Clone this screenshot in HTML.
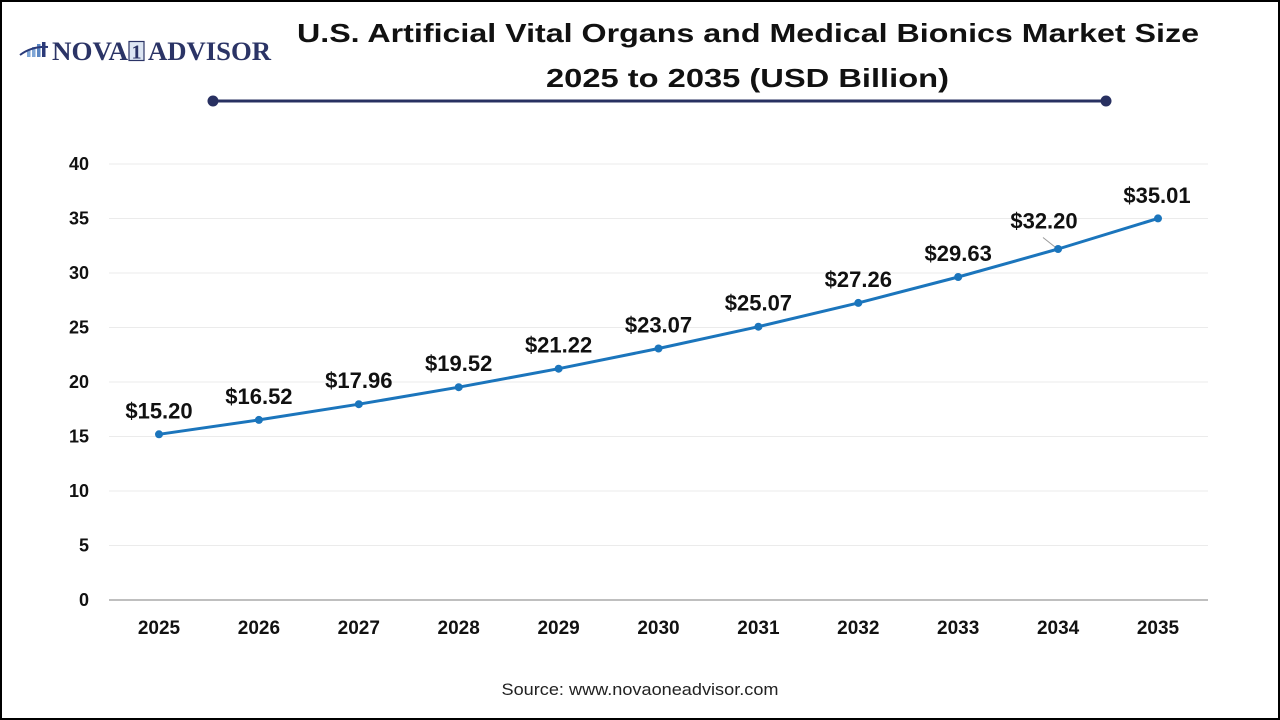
<!DOCTYPE html>
<html><head><meta charset="utf-8"><style>
html,body{margin:0;padding:0;background:#fff;}
svg{display:block;}
</style></head><body>
<svg width="1280" height="720" viewBox="0 0 1280 720" xmlns="http://www.w3.org/2000/svg">
<rect x="0" y="0" width="1280" height="720" fill="#fff"/>
<rect x="1" y="1" width="1278" height="718" fill="none" stroke="#000" stroke-width="2"/>
<!-- logo -->
<g>
<rect x="27" y="50" width="3.5" height="7" fill="#7fa6d6"/>
<rect x="32" y="47" width="3.5" height="10" fill="#7fa6d6"/>
<rect x="37" y="44" width="3.5" height="13" fill="#5b87c4"/>
<rect x="42" y="42" width="3.5" height="15" fill="#2b3a78"/>
<path d="M20 55 Q32 46 48 47" stroke="#2b3a78" stroke-width="2" fill="none"/>
<text x="52" y="60" font-family="Liberation Serif, serif" font-weight="bold" font-size="26" fill="#2b3466" textLength="76" lengthAdjust="spacingAndGlyphs">NOVA</text>
<rect x="129" y="41.5" width="15" height="19" fill="#dde6f3" stroke="#2b3466" stroke-width="1.2"/>
<text x="136.5" y="58.5" font-family="Liberation Serif, serif" font-weight="bold" font-size="20" fill="#2b3466" text-anchor="middle">1</text>
<text x="148" y="60" font-family="Liberation Serif, serif" font-weight="bold" font-size="26" fill="#2b3466" textLength="123" lengthAdjust="spacingAndGlyphs">ADVISOR</text>
</g>
<!-- title -->
<text x="748" y="42" font-family="Liberation Sans, sans-serif" font-weight="bold" font-size="26" fill="#111" text-anchor="middle" textLength="902" lengthAdjust="spacingAndGlyphs">U.S. Artificial Vital Organs and Medical Bionics Market Size</text>
<text x="747.5" y="87" font-family="Liberation Sans, sans-serif" font-weight="bold" font-size="26" fill="#111" text-anchor="middle" textLength="403" lengthAdjust="spacingAndGlyphs">2025 to 2035 (USD Billion)</text>
<line x1="213" y1="101" x2="1106" y2="101" stroke="#283061" stroke-width="3"/>
<circle cx="213" cy="101" r="5.5" fill="#283061"/>
<circle cx="1106" cy="101" r="5.5" fill="#283061"/>
<!-- grid -->
<g stroke="#ebebeb" stroke-width="1">
<line x1="109" y1="164" x2="1208" y2="164"/>
<line x1="109" y1="218.5" x2="1208" y2="218.5"/>
<line x1="109" y1="273" x2="1208" y2="273"/>
<line x1="109" y1="327.5" x2="1208" y2="327.5"/>
<line x1="109" y1="382" x2="1208" y2="382"/>
<line x1="109" y1="436.5" x2="1208" y2="436.5"/>
<line x1="109" y1="491" x2="1208" y2="491"/>
<line x1="109" y1="545.5" x2="1208" y2="545.5"/>
</g>
<line x1="109" y1="600" x2="1208" y2="600" stroke="#bfbfbf" stroke-width="2"/>
<!-- y labels -->
<g font-family="Liberation Sans, sans-serif" font-weight="bold" font-size="18" fill="#111" text-anchor="end">
<text x="89" y="170">40</text>
<text x="89" y="224.5">35</text>
<text x="89" y="279">30</text>
<text x="89" y="333.5">25</text>
<text x="89" y="388">20</text>
<text x="89" y="442.5">15</text>
<text x="89" y="497">10</text>
<text x="89" y="551.5">5</text>
<text x="89" y="606">0</text>
</g>
<!-- x labels -->
<g font-family="Liberation Sans, sans-serif" font-weight="bold" font-size="19" fill="#111" text-anchor="middle">
<text x="159" y="634">2025</text>
<text x="258.9" y="634">2026</text>
<text x="358.8" y="634">2027</text>
<text x="458.7" y="634">2028</text>
<text x="558.6" y="634">2029</text>
<text x="658.5" y="634">2030</text>
<text x="758.4" y="634">2031</text>
<text x="858.3" y="634">2032</text>
<text x="958.2" y="634">2033</text>
<text x="1058.1" y="634">2034</text>
<text x="1158" y="634">2035</text>
</g>
<!-- line -->
<polyline fill="none" stroke="#1b75bc" stroke-width="3" stroke-linejoin="round" points="159,434.3 258.9,419.9 358.8,404.2 458.7,387.2 558.6,368.7 658.5,348.5 758.4,326.7 858.3,302.9 958.2,277 1058.1,249 1158,218.4"/>
<g fill="#1b75bc">
<circle cx="159" cy="434.3" r="4"/>
<circle cx="258.9" cy="419.9" r="4"/>
<circle cx="358.8" cy="404.2" r="4"/>
<circle cx="458.7" cy="387.2" r="4"/>
<circle cx="558.6" cy="368.7" r="4"/>
<circle cx="658.5" cy="348.5" r="4"/>
<circle cx="758.4" cy="326.7" r="4"/>
<circle cx="858.3" cy="302.9" r="4"/>
<circle cx="958.2" cy="277" r="4"/>
<circle cx="1058.1" cy="249" r="4"/>
<circle cx="1158" cy="218.4" r="4"/>
</g>
<line x1="1043" y1="237.5" x2="1055" y2="247" stroke="#999" stroke-width="1"/>
<!-- data labels -->
<g font-family="Liberation Sans, sans-serif" font-weight="bold" font-size="22" fill="#111" text-anchor="middle">
<text x="159" y="418.5">$15.20</text>
<text x="258.9" y="404">$16.52</text>
<text x="358.8" y="388">$17.96</text>
<text x="458.7" y="371">$19.52</text>
<text x="558.6" y="352.5">$21.22</text>
<text x="658.5" y="332.5">$23.07</text>
<text x="758.4" y="310.5">$25.07</text>
<text x="858.3" y="287">$27.26</text>
<text x="958.2" y="261">$29.63</text>
<text x="1044" y="228.5">$32.20</text>
<text x="1157" y="203">$35.01</text>
</g>
<text x="640" y="695" font-family="Liberation Sans, sans-serif" font-size="17" fill="#222" text-anchor="middle" textLength="277" lengthAdjust="spacingAndGlyphs">Source: www.novaoneadvisor.com</text>
</svg>
</body></html>
